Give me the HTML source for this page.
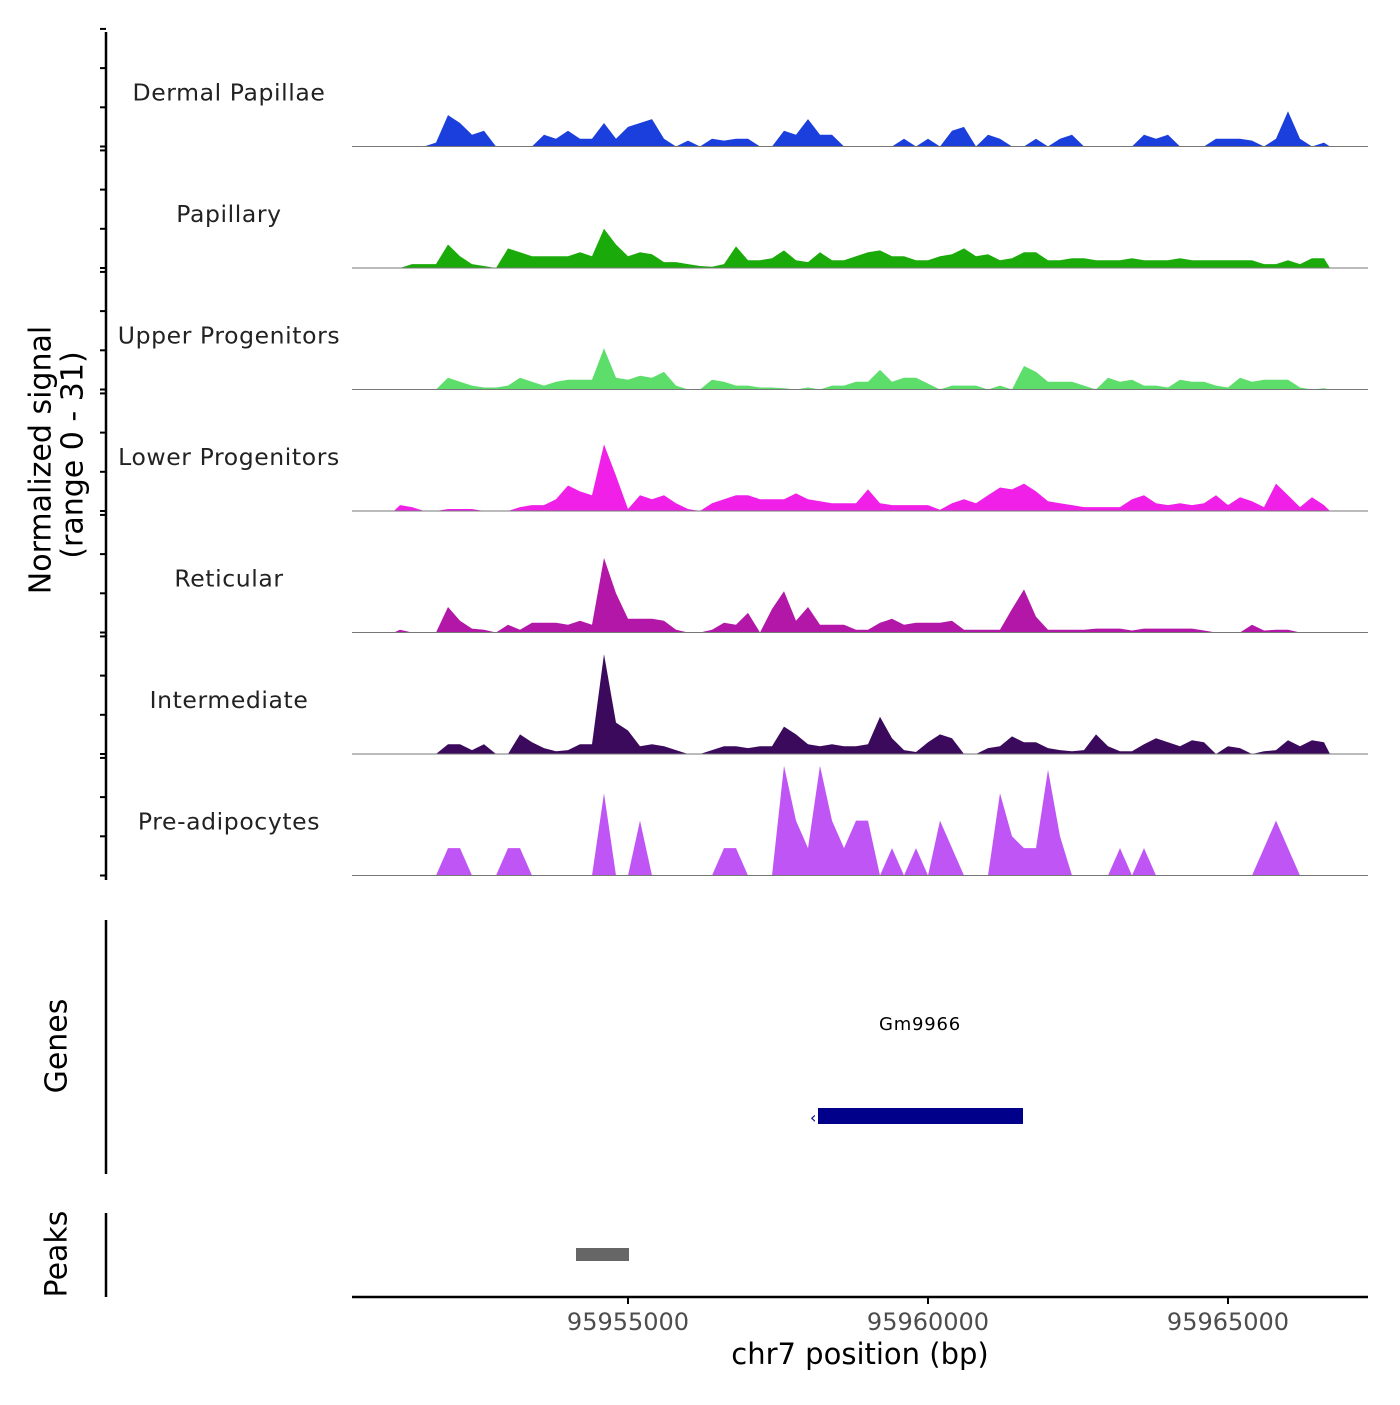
<!DOCTYPE html>
<html><head><meta charset="utf-8"><style>
body{margin:0;background:#fff}
svg text{font-family:"DejaVu Sans","Liberation Sans",sans-serif}
</style></head><body>
<svg id="chart" width="1400" height="1400" viewBox="0 0 1400 1400" xmlns="http://www.w3.org/2000/svg">
<g id="tracks"></g>
<g id="axes"></g>
<text x="42" y="460" font-size="30" text-anchor="middle" transform="rotate(-90 42 460)" dominant-baseline="middle">Normalized signal</text>
<text x="74" y="455" font-size="30" text-anchor="middle" transform="rotate(-90 74 455)" dominant-baseline="middle">(range 0 - 31)</text>
<line x1="106" y1="920" x2="106" y2="1174" stroke="#000" stroke-width="2.5"/>
<text x="58" y="1046" font-size="30" text-anchor="middle" transform="rotate(-90 58 1046)" dominant-baseline="middle">Genes</text>
<text x="920" y="1030" font-size="18" text-anchor="middle" letter-spacing="0.8">Gm9966</text>
<rect x="818" y="1108" width="205" height="16" fill="#00008b"/>
<text x="810" y="1123" font-size="16" fill="#00008b">‹</text>
<line x1="106" y1="1213" x2="106" y2="1297" stroke="#000" stroke-width="2.5"/>
<text x="58" y="1254" font-size="30" text-anchor="middle" transform="rotate(-90 58 1254)" dominant-baseline="middle">Peaks</text>
<rect x="576" y="1248" width="53" height="13" fill="#666"/>
<line x1="352" y1="1297" x2="1368" y2="1297" stroke="#000" stroke-width="2.5"/>
<g id="xticks"></g>
<text x="860" y="1364" font-size="29" text-anchor="middle">chr7 position (bp)</text>
</svg>
<script>
const trackNames = ["Dermal Papillae","Papillary","Upper Progenitors","Lower Progenitors","Reticular","Intermediate","Pre-adipocytes"];
const trackColors = ["#1a3fdc","#1aab0a","#5ddd6a","#f020e8","#b317a8","#3b0a5c","#c055f5"];
const binStart = 95951100;
const binSize = 200;
const xTicks = [95955000,95960000,95965000];
const dermal = [0,0,0,1,8,6,3,4,0,0,0,0,3,2,4,2,2,6,2,5,6,7,2,0,1.5,0,2,1.5,2,2,0,0,4,3,7,3,3,0,0,0,0,0,2,0,2,0,4,5,0,3,2,0,0,2,0,2,3,0,0,0,0,0,3,2,3,0,0,0,2,2,2,1.5,0,2,9,2,0,1];
const papillary = [0,1,1,1,6,3,1,0.5,0,5,4,3,3,3,3,4,3,10,6,3,4,3.5,1.5,1.5,1,0.5,0.3,1,5.5,2,2,2.5,4.5,2,1.5,4,2,2,3,4,4.5,3,3,2,2,3,3.5,5,3,3.5,2,2.5,4,4,2,2,2.5,2.5,2,2,2,2.5,2,2,2,2.5,2,2,2,2,2,2,1,1,2,1,2.5,2.5];
const upper = [0,0,0,0,3,2,1,0.5,0.5,1,3,2,1,2,2.5,2.5,2.5,10.5,3,2.5,3.5,3,4.5,1,0,0,2.5,2,1,1,0.5,0.5,0.3,0,0.5,0,1,1,2,2,5,2,3,3,1.5,0,1,1,1,0,1,0,6,4.5,2,2,2,1,0,3,2,2.5,1,1,0.5,2.5,2,2,1,0.5,3,2,2.5,2.5,2.5,0.5,0,0.3];
const lower = [1.5,1,0,0,0.5,0.5,0.5,0,0,0,1,1.5,1.5,3,6.5,5,4,17,9,0.5,4,3,4,2,0.5,0,2,3,4,4,3,3,3,4.5,3,2.5,2,2,2,5.5,2,1.5,1.5,1.5,1.5,0.3,2,3,2,4,6,5.5,7,5,2.5,2,1.5,1,1,1,1,3,4,2,1.5,2,1.5,2,4,1.5,3.5,2.5,1,7,4,1,3.5,1.5];
const reticular = [0.7,0,0,0,6.5,3,1,0.7,0,2,0.7,2.5,2.5,2.5,2,3,2,19,10,3.5,3.5,3.5,3,0.7,0,0,0.7,2.5,2,5,0,6,10.5,3,6.5,2,2,2,0.7,0.7,2.5,3.5,2,2.5,2.5,2.5,3,0.7,0.7,0.7,0.7,6,11,4,0.7,0.7,0.7,0.7,1,1,1,0.5,1,1,1,1,1,0.5,0,0,0,2,0.5,0.7,0.7,0,0,0];
const intermediate = [0,0,0,0,2.5,2.5,1,2.5,0,0,5,3,1.5,0.7,1,2.5,2.5,25.5,8,6,2,2.5,2,1,0,0,1,2,2,1.5,2,2,7,5,2.5,2,2.5,2,2,2.5,9.5,4,1,0.5,3,5,4,0,0,1.5,2,4.5,3,3,1.5,1,0.7,1,5,2,0.7,0.7,2.5,4,3,2,3.5,3,0,2,1.5,0,0.7,1,3.5,2,3.5,3];
const preadipo = [0,0,0,0,7,7,0,0,0,7,7,0,0,0,0,0,0,21,0,0,14,0,0,0,0,0,0,7,7,0,0,0,28,14,7,28,14,7,14,14,0,7,0,7,0,14,7,0,0,0,21,10,7,7,27,10,0,0,0,0,7,0,7,0,0,0,0,0,0,0,0,0,7,14,7,0,0,0];
const seriesList = [dermal,papillary,upper,lower,reticular,intermediate,preadipo];

const NS = "http://www.w3.org/2000/svg";
const plotL = 352, plotR = 1368, trackH = 121.5, firstBase = 146.5, yMax = 31;
const bpL = 95950400, pxPerBp = 0.06;
function xScale(bp){ return plotL + (bp - bpL) * pxPerBp; }
function yScale(v, base){ return base - v / yMax * trackH; }
function mk(tag, attrs){ const e = document.createElementNS(NS, tag); for (const k in attrs) e.setAttribute(k, attrs[k]); return e; }

const tracks = document.getElementById("tracks");
const axes = document.getElementById("axes");
seriesList.forEach((vals, t) => {
  const base = firstBase + t * trackH;
  let d = "M" + xScale(binStart) + "," + base;
  vals.forEach((v, i) => {
    d += " L" + xScale(binStart + (i + 0.5) * binSize).toFixed(1) + "," + yScale(v, base).toFixed(1);
  });
  d += " L" + xScale(binStart + vals.length * binSize) + "," + base + " Z";
  const p = mk("path", {d: d, fill: trackColors[t], stroke: "none"});
  
  
  tracks.appendChild(p);
  const bl = mk("line", {x1: plotL, x2: plotR, y1: base, y2: base, stroke: "#777", "stroke-width": 1});
  
  
  tracks.appendChild(bl);
  const lab = mk("text", {x: 229, y: base - 46, "font-size": 23.5, "text-anchor": "middle", fill: "#222", "letter-spacing": 0.6});
  lab.textContent = trackNames[t];
  
  
  tracks.appendChild(lab);
  [0, 10, 20, 30].forEach(v => {
    const tk = mk("line", {x1: 100, x2: 106, y1: yScale(v, base), y2: yScale(v, base), stroke: "#000", "stroke-width": 2});
    
    
    axes.appendChild(tk);
  });
});
const yAxis = mk("line", {x1: 106, x2: 106, y1: 32, y2: 880, stroke: "#000", "stroke-width": 2.5});


axes.appendChild(yAxis);

const xt = document.getElementById("xticks");
xTicks.forEach(b => {
  const x = xScale(b);
  const l = mk("line", {x1: x, x2: x, y1: 1297, y2: 1304, stroke: "#000", "stroke-width": 2});
  
  
  xt.appendChild(l);
  const tx = mk("text", {x: x, y: 1330, "font-size": 24, "text-anchor": "middle", fill: "#4d4d4d"});
  tx.textContent = String(b);
  
  
  xt.appendChild(tx);
});
</script>
</body></html>
